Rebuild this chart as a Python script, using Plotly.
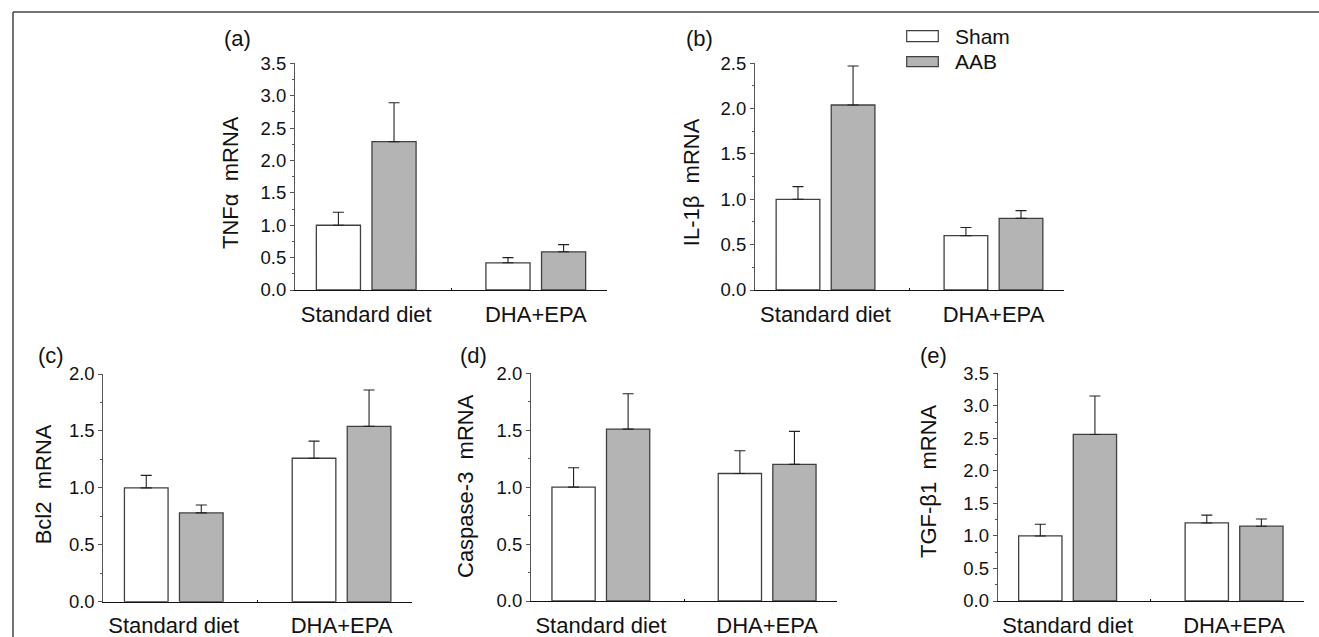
import plotly.graph_objects as go

W, H = 1319, 637

categories = ["Standard diet", "DHA+EPA"]
group_names = ["Sham", "AAB"]

# (a) TNFα
tnf_sham = [1.00, 0.42]
tnf_sham_err = [0.20, 0.08]
tnf_aab = [2.29, 0.59]
tnf_aab_err = [0.60, 0.11]
# (b) IL-1β
il1b_sham = [1.00, 0.60]
il1b_sham_err = [0.14, 0.09]
il1b_aab = [2.04, 0.79]
il1b_aab_err = [0.43, 0.085]
# (c) Bcl2
bcl2_sham = [1.00, 1.26]
bcl2_sham_err = [0.11, 0.15]
bcl2_aab = [0.78, 1.54]
bcl2_aab_err = [0.07, 0.32]
# (d) Caspase-3
casp_sham = [1.00, 1.12]
casp_sham_err = [0.17, 0.20]
casp_aab = [1.51, 1.20]
casp_aab_err = [0.31, 0.29]
# (e) TGF-β1
tgf_sham = [1.00, 1.20]
tgf_sham_err = [0.18, 0.12]
tgf_aab = [2.56, 1.15]
tgf_aab_err = [0.59, 0.11]

panel_letters = ["(a)", "(b)", "(c)", "(d)", "(e)"]
y_titles = ["TNFα\u00a0 mRNA", "IL-1β\u00a0 mRNA", "Bcl2\u00a0 mRNA",
            "Caspase-3\u00a0 mRNA", "TGF-β1\u00a0 mRNA"]
y_max = [3.5, 2.5, 2.0, 2.0, 3.5]

panels = [
    (tnf_sham, tnf_sham_err, tnf_aab, tnf_aab_err),
    (il1b_sham, il1b_sham_err, il1b_aab, il1b_aab_err),
    (bcl2_sham, bcl2_sham_err, bcl2_aab, bcl2_aab_err),
    (casp_sham, casp_sham_err, casp_aab, casp_aab_err),
    (tgf_sham, tgf_sham_err, tgf_aab, tgf_aab_err),
]

# layout geometry (pixels)
boxes = [  # x0, x1, ytop, ybottom
    (295, 607, 63.3, 290),
    (755, 1064, 63.3, 290),
    (103.3, 412, 374, 601.7),
    (531, 837, 373.3, 601),
    (997.7, 1304, 373.3, 601),
]
letter_pos = [(237.5, 38.5), (699, 38.5), (50.5, 355.5), (473.5, 355.5), (933.5, 355.5)]
title_pos = [(230, 183), (691.7, 182.5), (43.3, 484), (465, 486), (928.3, 480.7)]

FONT = "Liberation Sans, Arial, sans-serif"
GRAY = "#b4b4b4"
EDGE = "#404040"


def px(x):
    return x / W


def py(y):
    return 1 - y / H


fig = go.Figure()
layout = {}
annotations = []

for i, (s, se, a, ae) in enumerate(panels):
    n = i + 1
    xa = "x" if n == 1 else f"x{n}"
    ya = "y" if n == 1 else f"y{n}"
    fig.add_trace(go.Bar(
        x=categories, y=s, name=group_names[0], xaxis=xa, yaxis=ya,
        marker=dict(color="white", line=dict(color=EDGE, width=1.3)),
        error_y=dict(type="data", symmetric=False, array=se, arrayminus=[0] * len(se),
                     color="#222", thickness=1.1, width=5.5),
        showlegend=False, offsetgroup="sham",
    ))
    fig.add_trace(go.Bar(
        x=categories, y=a, name=group_names[1], xaxis=xa, yaxis=ya,
        marker=dict(color=GRAY, line=dict(color=EDGE, width=1.3)),
        error_y=dict(type="data", symmetric=False, array=ae, arrayminus=[0] * len(ae),
                     color="#222", thickness=1.1, width=5.5),
        showlegend=False, offsetgroup="aab",
    ))
    x0, x1, yt, yb = boxes[i]
    xkey = "xaxis" if n == 1 else f"xaxis{n}"
    ykey = "yaxis" if n == 1 else f"yaxis{n}"
    layout[xkey] = dict(
        domain=[px(x0), px(x1)], anchor=ya, type="category", automargin=False,
        range=[-0.42, 1.42], showline=True, linecolor="#111", linewidth=1.3,
        ticks="inside", tickson="boundaries", ticklen=2, tickcolor="#111",
        tickfont=dict(family=FONT, size=22, color="#111"),
        ticklabelstandoff=4, showgrid=False, zeroline=False, fixedrange=True,
    )
    layout[ykey] = dict(
        domain=[py(yb), py(yt)], anchor=xa, range=[0, y_max[i]], automargin=False,
        showline=True, linecolor="#555", linewidth=1,
        ticks="outside", ticklen=4, tickcolor="#555", dtick=0.5, tick0=0,
        tickformat=".1f", tickfont=dict(family=FONT, size=18.5, color="#111"),
        minor=dict(ticks="outside", ticklen=2, dtick=0.25, tickcolor="#555"),
        showgrid=False, zeroline=False, fixedrange=True,
    )
    lx, ly = letter_pos[i]
    annotations.append(dict(text=panel_letters[i], x=px(lx), y=py(ly), xref="paper", yref="paper",
                            showarrow=False, xanchor="center", yanchor="middle",
                            font=dict(family=FONT, size=22, color="#111")))
    tx, ty = title_pos[i]
    annotations.append(dict(text=y_titles[i], x=px(tx), y=py(ty), xref="paper", yref="paper",
                            showarrow=False, xanchor="center", yanchor="middle", textangle=-90,
                            font=dict(family=FONT, size=22, color="#111")))

# legend (manual)
shapes = [
    dict(type="rect", xref="paper", yref="paper", x0=px(906.7), x1=px(938.3), y0=py(41.7), y1=py(30.7),
         fillcolor="white", line=dict(color=EDGE, width=1.2)),
    dict(type="rect", xref="paper", yref="paper", x0=px(906.7), x1=px(938.3), y0=py(66.7), y1=py(56.7),
         fillcolor=GRAY, line=dict(color=EDGE, width=1.2)),
    # frame
    dict(type="line", xref="paper", yref="paper", x0=px(13), x1=px(1319), y0=py(12), y1=py(12),
         line=dict(color="#444", width=1.5)),
    dict(type="line", xref="paper", yref="paper", x0=px(13), x1=px(13), y0=py(12), y1=py(637),
         line=dict(color="#444", width=1.5)),
]
for name, yc in zip(group_names, [36.7, 61.7]):
    annotations.append(dict(text=name, x=px(953), y=py(yc), xref="paper", yref="paper",
                            showarrow=False, xanchor="left", yanchor="middle",
                            font=dict(family=FONT, size=21, color="#111")))

fig.update_layout(
    width=W, height=H, margin=dict(l=0, r=0, t=0, b=0, autoexpand=False),
    paper_bgcolor="white", plot_bgcolor="white",
    barmode="group", bargap=0.344, bargroupgap=0.207,
    annotations=annotations, shapes=shapes, **layout,
)

fig.write_html("out.html", config={"displayModeBar": False},
               post_script="document.body.style.margin='0';document.body.style.overflow='hidden';")
